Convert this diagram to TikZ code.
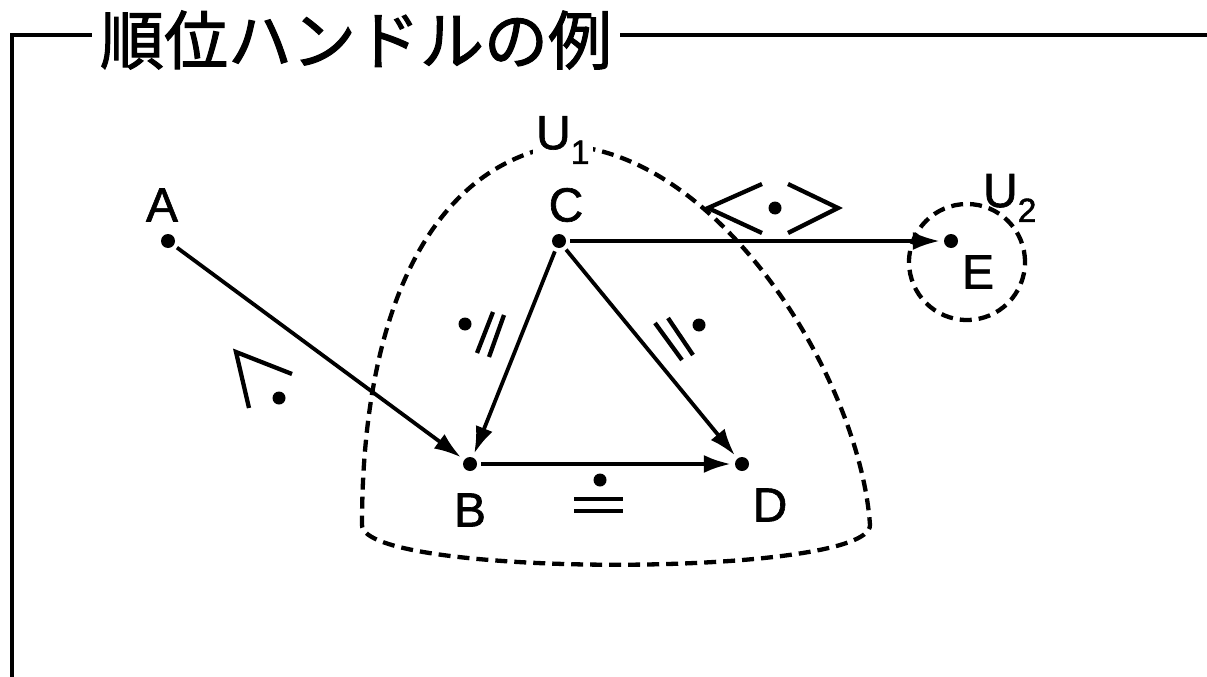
\documentclass[tikz,border=0pt]{standalone}
\usepackage{fontspec}
\setmainfont{Liberation Sans}
\newfontfamily\lf[FakeBold=1.3]{Liberation Sans}
\newfontfamily\cjk[FakeBold=1.6]{Noto Sans CJK JP}
\usetikzlibrary{arrows.meta}
\begin{document}
\begin{tikzpicture}[x=1pt,y=-1pt, line width=4.3pt,
 pt/.style={circle,fill,inner sep=0pt,minimum size=14pt},
 lbl/.style={font=\lf\fontsize{48}{48}\selectfont, inner sep=0pt},
 sdot/.style={circle,fill,inner sep=0pt,minimum size=13pt},
 arr/.style={line width=3.8pt,-{Latex[length=27pt,width=18pt]}, shorten >=2pt, shorten <=2pt},
 bnd/.style={line width=4.3pt,dash pattern=on 12pt off 7pt}]
\useasboundingbox (0,0) rectangle (1207,677);
% frame and title
\node[font=\cjk\fontsize{64}{64}\selectfont, inner sep=0pt, anchor=center] (title) at (356,40) {順位ハンドルの例};
\coordinate (fbl) at (12,677);
\coordinate (ftr) at (1207,35);
\draw (fbl) |- ([xshift=-6pt]title.west |- ftr);
\draw ([xshift=6pt]title.east |- ftr) -- (ftr);
% U1 boundary
\draw[bnd] (560,145) .. controls (420,170) and (362,330) .. (362,525)
  .. controls (362,578) and (870,578) .. (870,525)
  .. controls (860,380) and (720,150) .. (560,145);
\node[lbl, fill=white, inner sep=3pt] (u1) at (563,140) {U\textsubscript{1}};
% U2
\draw[bnd] (967,262) circle (58pt);
\node[lbl] (u2) at (1010,198) {U\textsubscript{2}};
% points
\node[pt] (A) at (168,241) {};
\node[pt] (B) at (470,464) {};
\node[pt] (C) at (559,241) {};
\node[pt] (D) at (742,464) {};
\node[pt] (E) at (951,241) {};
\node[lbl] at (162,205) {A};
\node[lbl] at (470,510) {B};
\node[lbl] at (566,205) {C};
\node[lbl] at (770,505) {D};
\node[lbl] at (978,272) {E};
% arrows
\draw[arr] (A) -- (B);
\draw[arr] (C) -- (B);
\draw[arr] (C) -- (D);
\draw[arr] (B) -- (D);
\draw[arr] (C) -- (E);
% edge labels
% A->B
\draw (292,374) -- (236,352) -- (249,408);
\node[sdot] (ab) at (279,398) {};
% C->B
\draw (493,312) -- (477,353);
\draw (504,315) -- (489,357);
\node[sdot] (cb) at (465,324) {};
% C->D
\draw (655,323) -- (682,360);
\draw (668,318) -- (693,355);
\node[sdot] (cd) at (699,325) {};
% B->D
\node[sdot] (bd) at (600,480) {};
\draw (574,499) -- (623,499);
\draw (574,511) -- (623,511);
% C->E
\draw (762,184) -- (708,208) -- (762,233);
\node[sdot] (ce) at (775,208) {};
\draw (788,184) -- (838,208) -- (788,233);
\end{tikzpicture}
\end{document}
